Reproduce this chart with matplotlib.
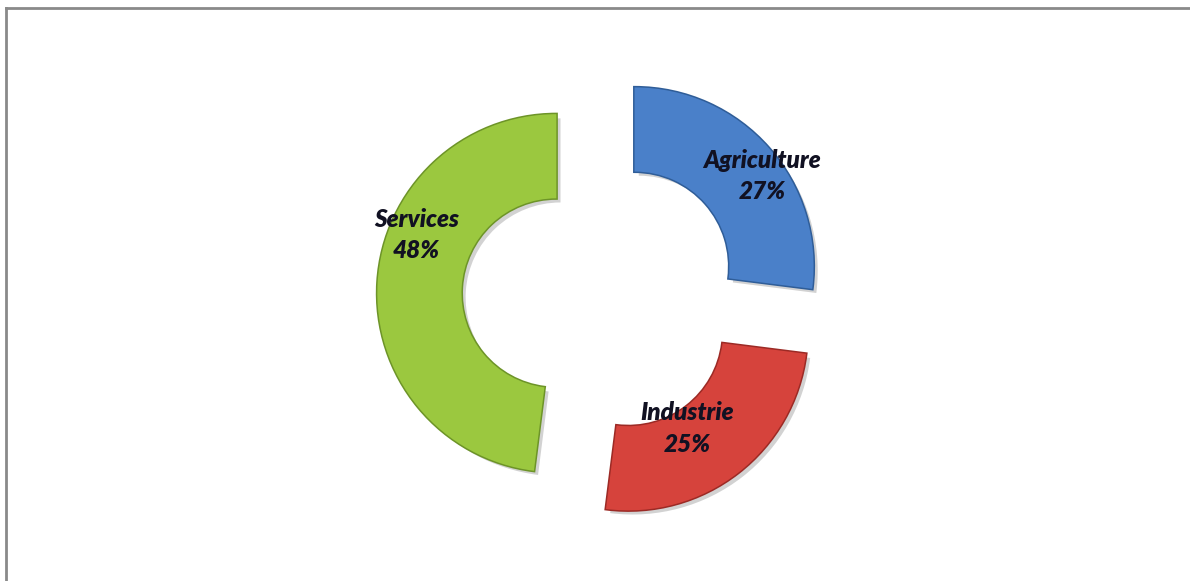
import numpy as np
import matplotlib
matplotlib.use('Agg')
import matplotlib.pyplot as plt
import matplotlib.patheffects as pe
from matplotlib.lines import Line2D

# sector shares of employment
sectors = ['Agriculture', 'Industrie', 'Services']
shares = [27, 25, 48]
colors = ['#4a80c9', '#d6433c', '#9bc83f']
edge_colors = ['#2f5d98', '#9c2a25', '#6d9428']


def plot_all():
    fig = plt.figure(figsize=(11.9, 5.81), dpi=100)
    ax = fig.add_axes([0, 0, 1, 1])

    wedges, _ = ax.pie(
        shares,
        colors=colors,
        startangle=90,
        counterclock=False,
        explode=[0.25] * len(shares),
        radius=1.0,
        wedgeprops=dict(width=0.47, linewidth=0),
    )

    for w, ec in zip(wedges, edge_colors):
        w.set_path_effects([
            pe.SimplePatchShadow(offset=(3, -3), shadow_rgbFace='#808080', alpha=0.35),
            pe.Stroke(linewidth=2.2, foreground=ec),
            pe.Normal(),
        ])

    # label anchors, placed by hand in the pie's own units
    label_xy = [(0.90, 0.67), (0.48, -0.74), (-1.03, 0.34)]
    for name, val, (lx, ly) in zip(sectors, shares, label_xy):
        ax.text(lx, ly, f'{name}\n{val}%', ha='center', va='center',
                fontsize=17.5, fontweight='heavy', fontstyle='italic',
                family=['Lato', 'DejaVu Sans'], color='#111122',
                linespacing=1.45)

    ax.set_aspect('equal')
    ax.set_xlim(-601 / 179, (1190 - 601) / 179)
    ax.set_ylim(-(581 - 296) / 179, 296 / 179)
    ax.axis('off')

    # thin frame along the top and left edges
    fig.add_artist(Line2D([0.005, 0.005], [0.0, 0.987], transform=fig.transFigure,
                          color='#8a8a8a', linewidth=2))
    fig.add_artist(Line2D([0.005, 1.0], [0.987, 0.987], transform=fig.transFigure,
                          color='#8a8a8a', linewidth=2))

    fig.savefig('out.png', dpi=100, facecolor='white')


if __name__ == '__main__':
    plot_all()
